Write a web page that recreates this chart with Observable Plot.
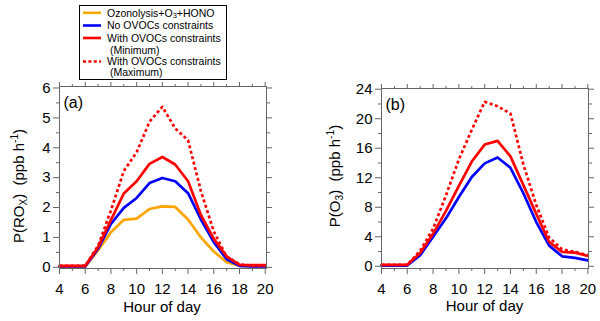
<!DOCTYPE html>
<html>
<head>
<meta charset="utf-8">
<script src="https://cdn.jsdelivr.net/npm/d3@7"></script>
<script src="https://cdn.jsdelivr.net/npm/@observablehq/plot@0.6"></script>
<style>
  html, body { margin: 0; padding: 0; background: #fff; }
  #wrap { position: relative; width: 600px; height: 321px; font-family: "Liberation Sans", Arial, sans-serif; }
  #wrap > svg, #wrap > div { position: absolute; top: 0; }
</style>
</head>
<body>
<div id="wrap"></div>
<script>
// ---- data ----
const hours = [4, 5, 6, 7, 8, 9, 10, 11, 12, 13, 14, 15, 16, 17, 18, 19, 20];

// Panel (a): P(ROx)
const roxOzonolysis = [0.02, 0.02, 0.02, 0.57, 1.17, 1.59, 1.63, 1.95, 2.04, 2.02, 1.6, 1.0, 0.53, 0.17, 0.05, 0.03, 0.03];
const roxNoOVOC     = [0.03, 0.03, 0.03, 0.62, 1.45, 1.99, 2.32, 2.82, 2.99, 2.88, 2.48, 1.6, 0.84, 0.27, 0.05, 0.03, 0.03];
const roxMin        = [0.05, 0.05, 0.05, 0.67, 1.58, 2.47, 2.88, 3.46, 3.69, 3.44, 2.88, 1.75, 0.95, 0.37, 0.08, 0.07, 0.07];
const roxMax        = [0.05, 0.05, 0.05, 0.72, 1.9, 3.22, 3.85, 4.87, 5.37, 4.65, 4.25, 2.55, 1.2, 0.35, 0.1, 0.05, 0.05];

// Panel (b): P(O3)
const o3NoOVOC = [0.1, 0.1, 0.1, 1.5, 4.0, 6.5, 9.4, 12.1, 13.95, 14.75, 13.35, 9.9, 6.0, 2.8, 1.35, 1.15, 0.8];
const o3Min    = [0.2, 0.2, 0.2, 1.8, 4.4, 7.5, 10.9, 14.2, 16.5, 17.0, 14.9, 11.0, 7.1, 3.3, 1.95, 1.85, 1.4];
const o3Max    = [0.2, 0.2, 0.2, 2.1, 5.1, 9.6, 14.5, 18.5, 22.3, 21.7, 20.7, 13.8, 8.3, 3.9, 2.3, 1.95, 1.5];

const seriesNames = ["Ozonolysis+O3+HONO", "No OVOCs constraints", "With OVOCs constraints (Minimum)", "With OVOCs constraints (Maximum)"];
const seriesColors = ["#FFA500", "#0000FF", "#FF0000", "#FF0000"];

const xMajor = [4, 6, 8, 10, 12, 14, 16, 18, 20];
const xMinor = [5, 7, 9, 11, 13, 15, 17, 19];
const yMajorA = [0, 1, 2, 3, 4, 5, 6];
const yMinorA = [0.5, 1.5, 2.5, 3.5, 4.5, 5.5];
const yMajorB = [0, 4, 8, 12, 16, 20, 24];
const yMinorB = [2, 6, 10, 14, 18, 22];

// ---- helpers ----
const toRows = (vals, s) => hours.map((h, i) => ({hour: h, value: vals[i], series: s}));
const AX = "#666";
const FS = 15;
const FONT = "Liberation Sans, Arial, sans-serif";

function axes(yMajor, yMinor) {
  const blank = () => "";
  return [
    Plot.frame({stroke: AX, strokeWidth: 1}),
    Plot.axisX({anchor: "bottom", ticks: xMajor, tickSize: 6, tickPadding: 9, fontSize: FS, tickFormat: d3.format("d"), label: null, stroke: AX, fill: "#000"}),
    Plot.axisX({anchor: "bottom", ticks: xMinor, tickSize: 3, tickFormat: blank, label: null, stroke: AX}),
    Plot.axisX({anchor: "top", ticks: xMajor, tickSize: 5, tickFormat: blank, label: null, stroke: AX}),
    Plot.axisX({anchor: "top", ticks: xMinor, tickSize: 3, tickFormat: blank, label: null, stroke: AX}),
    Plot.axisY({anchor: "left", ticks: yMajor, tickSize: 6, tickPadding: 3, fontSize: FS, tickFormat: d3.format("d"), label: null, stroke: AX, fill: "#000"}),
    Plot.axisY({anchor: "left", ticks: yMinor, tickSize: 3, tickFormat: blank, label: null, stroke: AX}),
    Plot.axisY({anchor: "right", ticks: yMajor, tickSize: 5, tickFormat: blank, label: null, stroke: AX}),
    Plot.axisY({anchor: "right", ticks: yMinor, tickSize: 3, tickFormat: blank, label: null, stroke: AX})
  ];
}

function lineMarks(rowsList) {
  return rowsList.map(({rows, color, dash}) =>
    Plot.line(rows, {x: "hour", y: "value", stroke: color, strokeWidth: 2.7,
      strokeDasharray: dash ? "3,2.6" : null, strokeLinejoin: "round", strokeLinecap: dash ? "butt" : "round"}));
}

// ---- panel (a) ----
const plotA = Plot.plot({
  width: 300, height: 321,
  marginLeft: 59, marginRight: 34, marginTop: 86, marginBottom: 53,
  style: {fontFamily: FONT, background: "transparent", color: "#000"},
  x: {domain: [4, 20.1]},
  y: {domain: [-0.04, 6.05]},
  marks: [
    ...lineMarks([
      {rows: toRows(roxOzonolysis, seriesNames[0]), color: seriesColors[0]},
      {rows: toRows(roxNoOVOC, seriesNames[1]), color: seriesColors[1]},
      {rows: toRows(roxMax, seriesNames[3]), color: seriesColors[3], dash: true},
      {rows: toRows(roxMin, seriesNames[2]), color: seriesColors[2]}
    ]),
    ...axes(yMajorA, yMinorA),
    Plot.text(["(a)"], {frameAnchor: "top-left", dx: 4, dy: 10, fontSize: FS + 1, textAnchor: "start", lineAnchor: "top", fill: "#000"})
  ]
});

// ---- panel (b) ----
const plotB = Plot.plot({
  width: 300, height: 321,
  marginLeft: 81, marginRight: 12, marginTop: 88, marginBottom: 53,
  style: {fontFamily: FONT, background: "transparent", color: "#000"},
  x: {domain: [4, 20.05]},
  y: {domain: [-0.3, 24.1]},
  marks: [
    ...lineMarks([
      {rows: toRows(o3NoOVOC, seriesNames[1]), color: seriesColors[1]},
      {rows: toRows(o3Max, seriesNames[3]), color: seriesColors[3], dash: true},
      {rows: toRows(o3Min, seriesNames[2]), color: seriesColors[2]}
    ]),
    ...axes(yMajorB, yMinorB),
    Plot.text(["(b)"], {frameAnchor: "top-left", dx: 4, dy: 10, fontSize: FS + 1, textAnchor: "start", lineAnchor: "top", fill: "#000"})
  ]
});

const wrap = document.getElementById("wrap");
plotA.style.left = "0px";
plotB.style.left = "300px";
wrap.appendChild(plotA);
wrap.appendChild(plotB);

// ---- axis titles with sub/superscripts ----
function yTitle(svg, cx, cy, main, sub) {
  const t = d3.select(svg).append("text")
    .attr("transform", `translate(${cx + 5},${cy}) rotate(-90)`)
    .attr("text-anchor", "middle")
    .attr("font-size", FS).attr("fill", "#000")
    .attr("font-family", FONT);
  t.append("tspan").text("P(" + main);
  t.append("tspan").attr("font-size", FS * 0.68).attr("dy", 3).text(sub);
  t.append("tspan").attr("dy", -3).text(")  (ppb h");
  t.append("tspan").attr("font-size", FS * 0.68).attr("dy", -6).text("-1");
  t.append("tspan").attr("dy", 6).text(")");
}
function xTitle(svg, cx, cy) {
  d3.select(svg).append("text")
    .attr("x", cx).attr("y", cy + 5).attr("text-anchor", "middle")
    .attr("font-size", FS).attr("fill", "#000")
    .attr("font-family", FONT)
    .text("Hour of day");
}
yTitle(plotA, 19, 186, "RO", "X");
yTitle(plotB, 35, 176, "O", "3");
xTitle(plotA, 162, 307);
xTitle(plotB, 184.5, 306);

// ---- legend ----
const leg = d3.select(wrap).append("svg")
  .attr("width", 600).attr("height", 90)
  .style("position", "absolute").style("left", "0px").style("top", "0px");
leg.append("rect").attr("x", 79.5).attr("y", 5.5).attr("width", 147).attr("height", 74)
  .attr("fill", "#fff").attr("stroke", "#000").attr("stroke-width", 1);
const legRows = [
  {y: 12.8, color: seriesColors[0], dash: false, text: "Ozonolysis+O", sub: "3", after: "+HONO", x: 107},
  {y: 25.5, color: seriesColors[1], dash: false, text: "No OVOCs constraints", x: 107},
  {y: 38, color: seriesColors[2], dash: false, text: "With OVOCs constraints", x: 107},
  {y: 50, color: null, text: "(Minimum)", x: 110},
  {y: 61.5, color: seriesColors[3], dash: true, text: "With OVOCs constraints", x: 107},
  {y: 72.5, color: null, text: "(Maximum)", x: 110}
];
for (const r of legRows) {
  if (r.color) {
    leg.append("line").attr("x1", 83).attr("x2", 101).attr("y1", r.y).attr("y2", r.y)
      .attr("stroke", r.color).attr("stroke-width", 2.6)
      .attr("stroke-dasharray", r.dash ? "3,2.4" : null);
  }
  const t = leg.append("text").attr("x", r.x).attr("y", r.y + 3.8)
    .attr("font-size", 10.5).attr("fill", "#000")
    .attr("font-family", FONT);
  t.append("tspan").text(r.text);
  if (r.sub) {
    t.append("tspan").attr("font-size", 7.5).attr("dy", 1.6).text(r.sub);
    t.append("tspan").attr("dy", -1.6).text(r.after);
  }
}
</script>
</body>
</html>
